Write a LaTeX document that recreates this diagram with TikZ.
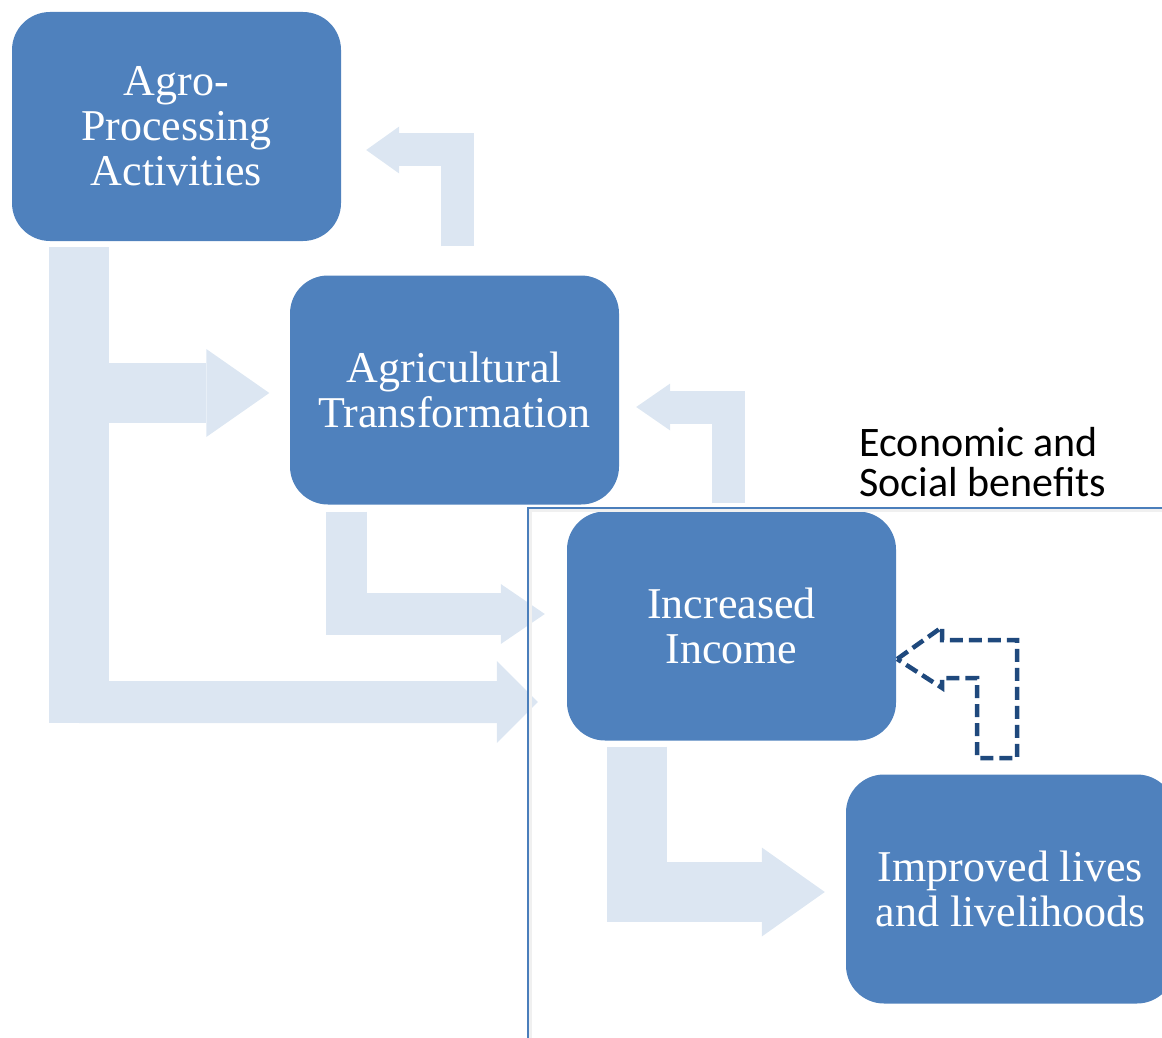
\documentclass[tikz,border=0pt]{standalone}
\usepackage{fontspec}
\setmainfont{Liberation Serif}
\newfontfamily\notefont{Carlito}
\usepackage{tikz}
\usetikzlibrary{arrows.meta, calc}
\usepackage{xcolor}
\definecolor{stageBlue}{HTML}{4F81BD}
\definecolor{flowMist}{HTML}{DCE6F2}
\definecolor{loopNavy}{HTML}{1F497D}
\definecolor{frameBlue}{HTML}{4A7EBB}

\begin{document}
\begin{tikzpicture}[x=1pt, y=-1pt,
  stage/.style={fill=stageBlue, rounded corners=38pt, minimum width=329pt,
    minimum height=229pt, inner sep=0pt, text=white, align=center,
    font=\fontsize{44}{45}\selectfont},
  flow/.style={draw=flowMist, line width=#1, line join=miter, line cap=butt},
  loop/.style={draw=loopNavy, line width=4.5pt, dash pattern=on 13pt off 6pt,
    line join=miter}]
  \useasboundingbox (0,0) rectangle (1162,1038);
  \clip (0,0) rectangle (1162,1038);
  % Stages
  \node[stage] (agro)   at (176.5,126.5) {Agro-\\Processing\\Activities};
  \node[stage] (trans)  at (454.5,390)   {Agricultural\\Transformation};
  \node[stage] (income) at (731.5,626)   {Increased\\Income};
  \node[stage] (lives)  at (1010.5,889)  {Improved lives\\and livelihoods};
  % Stem under the agro box, with its two branches
  \coordinate (stem) at ($(agro.south)+(-97.5,6)$);
  \draw[flow=60pt] (stem) -- ++(0,476);
  \draw[flow=60pt, -{Triangle[length=63pt, width=88pt, line width=0pt]}]
        (stem) |- ($(trans.west)+(-20.5,3)$);
  \draw[flow=42pt, -{Triangle[length=41pt, width=82pt, line width=0pt]}]
        ($(stem)+(0,455)$) -- ($(income.west)+(-29,76)$);
  % Feedback up to the agro box
  \draw[flow=33pt, -{Triangle[length=33pt, width=47pt, line width=0pt]}]
        ($(trans.north)+(3,-29)$) |- ($(agro.east)+(25,23.5)$);
  % Feedback up to the transformation box
  \draw[flow=33pt, -{Triangle[length=34pt, width=47pt, line width=0pt]}]
        ($(income.north)+(-3,-8)$) |- ($(trans.east)+(17,17)$);
  % Transformation down to income
  \draw[flow=41.5pt, -{Triangle[length=44pt, width=60pt, line width=0pt]}]
        ($(trans.south)+(-108,7)$) |- ($(income.west)+(-22,-12)$);
  % Income down to lives
  \draw[flow=60pt, -{Triangle[length=63pt, width=89pt, line width=0pt]}]
        ($(income.south)+(-94.5,6)$) |- ($(lives.west)+(-21,3)$);
  % Benefits frame
  \draw[black!6, line width=2.5pt] (530.5,1100) |- (1200,510.5);
  \draw[frameBlue, line width=2pt] (527.5,1100) |- (1200,507.5);
  \node[font=\notefont\fontsize{42}{40}\selectfont, align=left, anchor=west]
        (benefits) at (856,462) {Economic and\\Social benefits};
  % Dashed loop from lives back to income
  \draw[loop] ($(income.east)+(1,33)$) -- ++(45,-32) -- ++(0,13) -- ++(75,0)
        -- ++(0,118) -- ++(-40,0) -- ++(0,-80) -- ++(-35,0) -- ++(0,10) -- cycle;
\end{tikzpicture}
\end{document}
